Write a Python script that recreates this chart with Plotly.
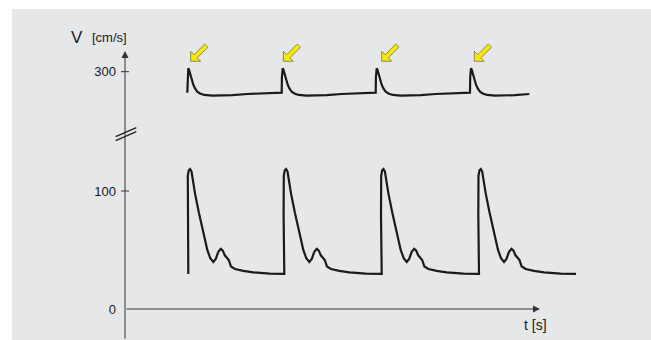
import plotly.graph_objects as go

# ---------------- data ----------------
# lower trace: velocity in cm/s, time in s
low_t = [0.633, 0.626, 0.624, 0.628, 0.638, 0.651, 0.665, 0.700, 0.738, 0.783, 0.823, 0.853, 0.883,
         0.908, 0.933, 0.958, 0.978, 0.998, 1.018, 1.038, 1.060, 1.100, 1.183, 1.283, 1.450,
         1.593, 1.586, 1.584, 1.588, 1.598, 1.611, 1.625, 1.660, 1.698, 1.743, 1.783, 1.813, 1.843,
         1.868, 1.893, 1.918, 1.938, 1.958, 1.978, 1.998, 2.020, 2.060, 2.143, 2.243, 2.410,
         2.567, 2.560, 2.558, 2.562, 2.572, 2.585, 2.599, 2.634, 2.672, 2.717, 2.757, 2.787, 2.817,
         2.842, 2.867, 2.892, 2.912, 2.932, 2.952, 2.972, 2.994, 3.034, 3.117, 3.217, 3.384,
         3.540, 3.533, 3.531, 3.535, 3.545, 3.558, 3.572, 3.607, 3.645, 3.690, 3.730, 3.760, 3.790,
         3.815, 3.840, 3.865, 3.885, 3.905, 3.925, 3.945, 3.967, 4.007, 4.090, 4.190, 4.357, 4.510]
low_v = [29.7, 80, 105, 113, 117.5, 118.6, 116.5, 98, 82, 64, 50, 43, 39.8,
         42.5, 48.5, 51, 49.5, 45.5, 43.5, 41.5, 36, 33.9, 32.3, 31.1, 29.9,
         29.7, 80, 105, 113, 117.5, 118.6, 116.5, 98, 82, 64, 50, 43, 39.8,
         42.5, 48.5, 51, 49.5, 45.5, 43.5, 41.5, 36, 33.9, 32.3, 31.1, 29.9,
         29.7, 80, 105, 113, 117.5, 118.6, 116.5, 98, 82, 64, 50, 43, 39.8,
         42.5, 48.5, 51, 49.5, 45.5, 43.5, 41.5, 36, 33.9, 32.3, 31.1, 29.9,
         29.7, 80, 105, 113, 117.5, 118.6, 116.5, 98, 82, 64, 50, 43, 39.8,
         42.5, 48.5, 51, 49.5, 45.5, 43.5, 41.5, 36, 33.9, 32.3, 31.1, 29.9, 29.7]

# upper trace (above the axis break)
up_t = [0.623, 0.625, 0.628, 0.633, 0.641, 0.653, 0.667, 0.683, 0.700, 0.723, 0.750, 0.793, 0.873, 0.953, 1.073, 1.223, 1.423,
        1.567, 1.569, 1.572, 1.577, 1.585, 1.597, 1.611, 1.627, 1.644, 1.667, 1.694, 1.737, 1.817, 1.897, 2.017, 2.167, 2.367,
        2.507, 2.509, 2.512, 2.517, 2.525, 2.537, 2.551, 2.567, 2.584, 2.607, 2.634, 2.677, 2.757, 2.837, 2.957, 3.107, 3.307,
        3.450, 3.452, 3.455, 3.460, 3.468, 3.480, 3.494, 3.510, 3.527, 3.550, 3.577, 3.620, 3.700, 3.780, 3.900, 4.043]
up_v = [282.2, 295, 301.5, 302.9, 301.5, 297.5, 293.5, 289, 285.9, 283, 281.5, 280.3, 279.8, 279.7, 280.1, 281.1, 281.9,
        282.2, 295, 301.5, 302.9, 301.5, 297.5, 293.5, 289, 285.9, 283, 281.5, 280.3, 279.8, 279.7, 280.1, 281.1, 281.9,
        282.2, 295, 301.5, 302.9, 301.5, 297.5, 293.5, 289, 285.9, 283, 281.5, 280.3, 279.8, 279.7, 280.1, 281.1, 281.9,
        282.2, 295, 301.5, 302.9, 301.5, 297.5, 293.5, 289, 285.9, 283, 281.5, 280.3, 279.8, 279.7, 280.1, 281.1]

# yellow arrows marking the upper peaks
arrow_t = [0.657, 1.583, 2.567, 3.493]
arrow_v = [302.9, 302.9, 302.9, 302.9]

low_ticks = [0, 100]
up_ticks = [300]
x_arrow_end = 4.15      # end of the time axis arrow
y_arrow_end = 218.6     # top of the V axis arrow (lower-axis units)

LOW_RANGE = [-26.27, 236.44]
UP_RANGE = [72.63, 335.34]

FONT = "Liberation Sans, Arial, sans-serif"
INK = "#1a1a1a"
AXC = "#333333"

fig = go.Figure()
fig.add_trace(go.Scatter(x=low_t, y=low_v, mode="lines", yaxis="y",
                         line=dict(color=INK, width=2.2), hoverinfo="skip", showlegend=False))
fig.add_trace(go.Scatter(x=up_t, y=up_v, mode="lines", yaxis="y2",
                         line=dict(color=INK, width=2.2), hoverinfo="skip", showlegend=False))

shapes = []
# grey panel
shapes.append(dict(type="rect", xref="paper", yref="paper", x0=-0.2354, x1=1.1, y0=-0.02, y1=1.0677,
                   fillcolor="#e6e7e9", line=dict(width=0), layer="below"))
# tick marks crossing the axis
for v in low_ticks:
    if v == 0:
        continue
    shapes.append(dict(type="line", xref="paper", yref="y", xsizemode="pixel", xanchor=0,
                       x0=-4, x1=4, y0=v, y1=v, line=dict(color=AXC, width=1)))
for v in up_ticks:
    shapes.append(dict(type="line", xref="paper", yref="y2", xsizemode="pixel", xanchor=0,
                       x0=-4, x1=4, y0=v, y1=v, line=dict(color=AXC, width=1)))
# axis break marks
for dy in (0, -4):
    shapes.append(dict(type="line", xref="paper", yref="paper", xsizemode="pixel", ysizemode="pixel",
                       xanchor=0, yanchor=0.6645, x0=-9.3, x1=11.3, y0=-2.7 + dy, y1=6.3 + dy,
                       line=dict(color="#222", width=1.4)))
# yellow arrows
arrow_pts = [(0, 0), (10, 0), (6.56, 3.44), (17.2, 14.0), (14.0, 17.2), (3.44, 6.56), (0, 10)]
path = "M " + " L ".join(f"{px},{py + 7}" for px, py in arrow_pts) + " Z"
for t, v in zip(arrow_t, arrow_v):
    shapes.append(dict(type="path", xref="x", yref="y2", xsizemode="pixel", ysizemode="pixel",
                       xanchor=t, yanchor=v, path=path, fillcolor="#f6e80c",
                       line=dict(color="#77743c", width=0.8)))

annotations = [
    # V axis with arrow head
    dict(x=0, y=y_arrow_end, xref="x", yref="y", ax=0, ay=LOW_RANGE[0], axref="x", ayref="y",
         showarrow=True, arrowhead=2, arrowsize=1.4, arrowwidth=1, arrowcolor=AXC, text="", standoff=0),
    # time axis with arrow head
    dict(x=x_arrow_end, y=0, xref="x", yref="y", ax=0, ay=0, axref="x", ayref="y",
         showarrow=True, arrowhead=2, arrowsize=1.4, arrowwidth=1, arrowcolor=AXC, text="", standoff=0),
    dict(x=-0.1, y=0.9774, xref="paper", yref="paper", text="V", showarrow=False,
         font=dict(family=FONT, size=17, color=INK), xanchor="center", yanchor="middle"),
    dict(x=-0.0333, y=0.9742, xref="paper", yref="paper", text="[cm/s]", showarrow=False,
         font=dict(family=FONT, size=13, color=INK), xanchor="center", yanchor="middle"),
    dict(x=4.10, y=0.05, xref="x", yref="paper", text="t [s]", showarrow=False,
         font=dict(family=FONT, size=14, color=INK), xanchor="center", yanchor="middle"),
]

fig.update_layout(
    width=651, height=340,
    margin=dict(l=125, r=46, t=30, b=0, autoexpand=False),
    paper_bgcolor="white", plot_bgcolor="rgba(0,0,0,0)",
    showlegend=False,
    xaxis=dict(range=[0, 4.8], visible=False, fixedrange=True),
    yaxis=dict(range=LOW_RANGE, tickmode="array", tickvals=low_ticks,
               ticktext=[str(v) for v in low_ticks], ticks="", showgrid=False, zeroline=False,
               showline=False, ticklabelstandoff=8,
               tickfont=dict(family=FONT, size=13, color=INK), automargin=False),
    yaxis2=dict(range=UP_RANGE, overlaying="y", side="left", anchor="x",
                tickmode="array", tickvals=up_ticks, ticktext=[str(v) for v in up_ticks],
                ticks="", showgrid=False, zeroline=False, showline=False, ticklabelstandoff=8,
                tickfont=dict(family=FONT, size=13, color=INK), automargin=False),
    shapes=shapes, annotations=annotations,
)

fig.write_html("out.html", config={"displayModeBar": False, "staticPlot": True},
               post_script="document.body.style.margin='0';document.body.style.overflow='hidden';")
